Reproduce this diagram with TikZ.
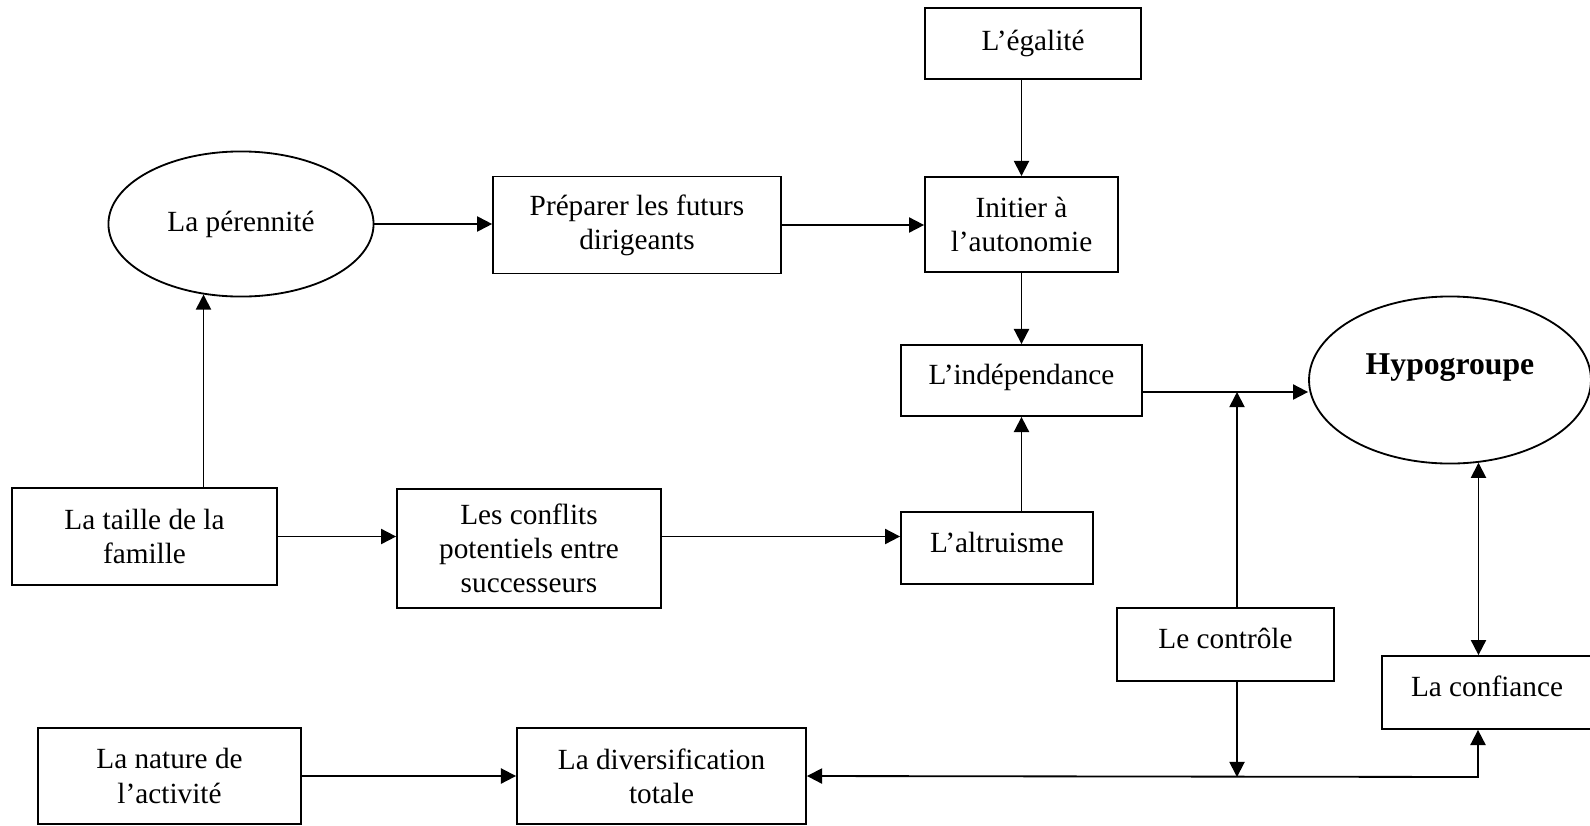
\documentclass[tikz,border=0pt]{standalone}
\usepackage{fontspec}
\setmainfont{Liberation Serif}
\usepackage{tikz}
\usetikzlibrary{positioning, shapes.geometric, arrows.meta}
\usetikzlibrary{calc}
\tikzstyle{box} = [rectangle, draw=black, line width=0.75pt, inner sep=0pt, text centered, align=center]
\tikzstyle{oneline} = [text height=8.5pt, text depth=5pt]
\tikzstyle{oval} = [ellipse, draw=black, line width=0.75pt, inner sep=0pt, text centered, align=center]
\tikzstyle{arrow} = [line width=0.75pt, -{Triangle[length=6.2pt,width=6.2pt]}]
\tikzstyle{dblarrow} = [line width=0.75pt, {Triangle[length=6.2pt,width=6.2pt]}-{Triangle[length=6.2pt,width=6.2pt]}]
\tikzstyle{every node}=[font=\fontsize{12}{14}\selectfont]

\begin{document}
\begin{tikzpicture}[x=0.41pt, y=-0.41pt]
		\useasboundingbox (0,0) rectangle (1590,825);
		% right column
		\node (egalite) [box, minimum width=88.6pt, minimum height=29.1pt] at (1033,43.5) {L’égalité};
		\node (initier) [box, minimum width=79.1pt, minimum height=39pt] at (1021.5,224.5) {Initier à\\l’autonomie};
		\node (indep) [box, oneline, minimum width=98.8pt, minimum height=29.1pt] at (1021.5,380.5) {L’indépendance};
		\node (altruisme) [box, oneline, minimum width=78.7pt, minimum height=29.5pt] at (997,548) {L’altruisme};
		\node (hypo) [oval, minimum width=115.6pt, minimum height=68.5pt] at (1450,380) {\raisebox{13pt}{\fontsize{13}{15}\selectfont\textbf{Hypogroupe}}};
		\node (controle) [box, oneline, minimum width=89pt, minimum height=29.9pt] at (1225.5,644.5) {Le contrôle};
		\node (confiance) [box, oneline, minimum width=86.1pt, minimum height=29.9pt] at (1487,692.5) {La confiance};
		% left part
		\node (perennite) [oval, minimum width=108.7pt, minimum height=59.5pt] at (241,224) {La pérennité};
		\node (preparer) [box, minimum width=118pt, minimum height=39.8pt] at (637,225) {Préparer les futurs\\dirigeants};
		\node (taille) [box, minimum width=108.7pt, minimum height=39.8pt] at (144.5,536.5) {La taille de la\\famille};
		\node (conflits) [box, minimum width=108.2pt, minimum height=48.8pt] at (529,548.5) {Les conflits\\potentiels entre\\successeurs};
		\node (nature) [box, minimum width=107.8pt, minimum height=39.4pt] at (169.5,776) {La nature de\\l’activité};
		\node (diversif) [box, minimum width=118.5pt, minimum height=39.4pt] at (661.5,776) {La diversification\\totale};
		% junctions
		\coordinate (ie) at ($(indep.east)+(0,11.5)$);
		\coordinate (ctop) at (1237,392);
		\coordinate (cbot) at (1237,777);
		\coordinate (corner) at (1478,777);
		% arrows
		\draw [arrow](perennite.east) -- (perennite.east -| preparer.west);
		\draw [arrow](preparer.east) -- (preparer.east -| initier.west);
		\draw [arrow](egalite.south -| initier.north) -- (initier.north);
		\draw [arrow](initier.south) -- (indep.north);
		\draw [arrow](altruisme.north -| indep.south) -- (indep.south);
		\draw [arrow](taille.north -| perennite.242) -- (perennite.242);
		\draw [arrow](taille.east) -- (taille.east -| conflits.west);
		\draw [arrow](conflits.east |- taille.east) -- (altruisme.west |- taille.east);
		\draw [arrow](ie) -- (ie -| hypo.west);
		\draw [arrow](controle.north -| ctop) -- (ctop);
		\draw [arrow](controle.south -| cbot) -- (cbot);
		\draw [dblarrow](diversif.east) -- (corner) -- (corner |- confiance.south);
		\draw [dblarrow](hypo.-71) -- (hypo.-71 |- confiance.north);
		\draw [arrow](nature.east) -- (diversif.west);
	\end{tikzpicture}
\end{document}
